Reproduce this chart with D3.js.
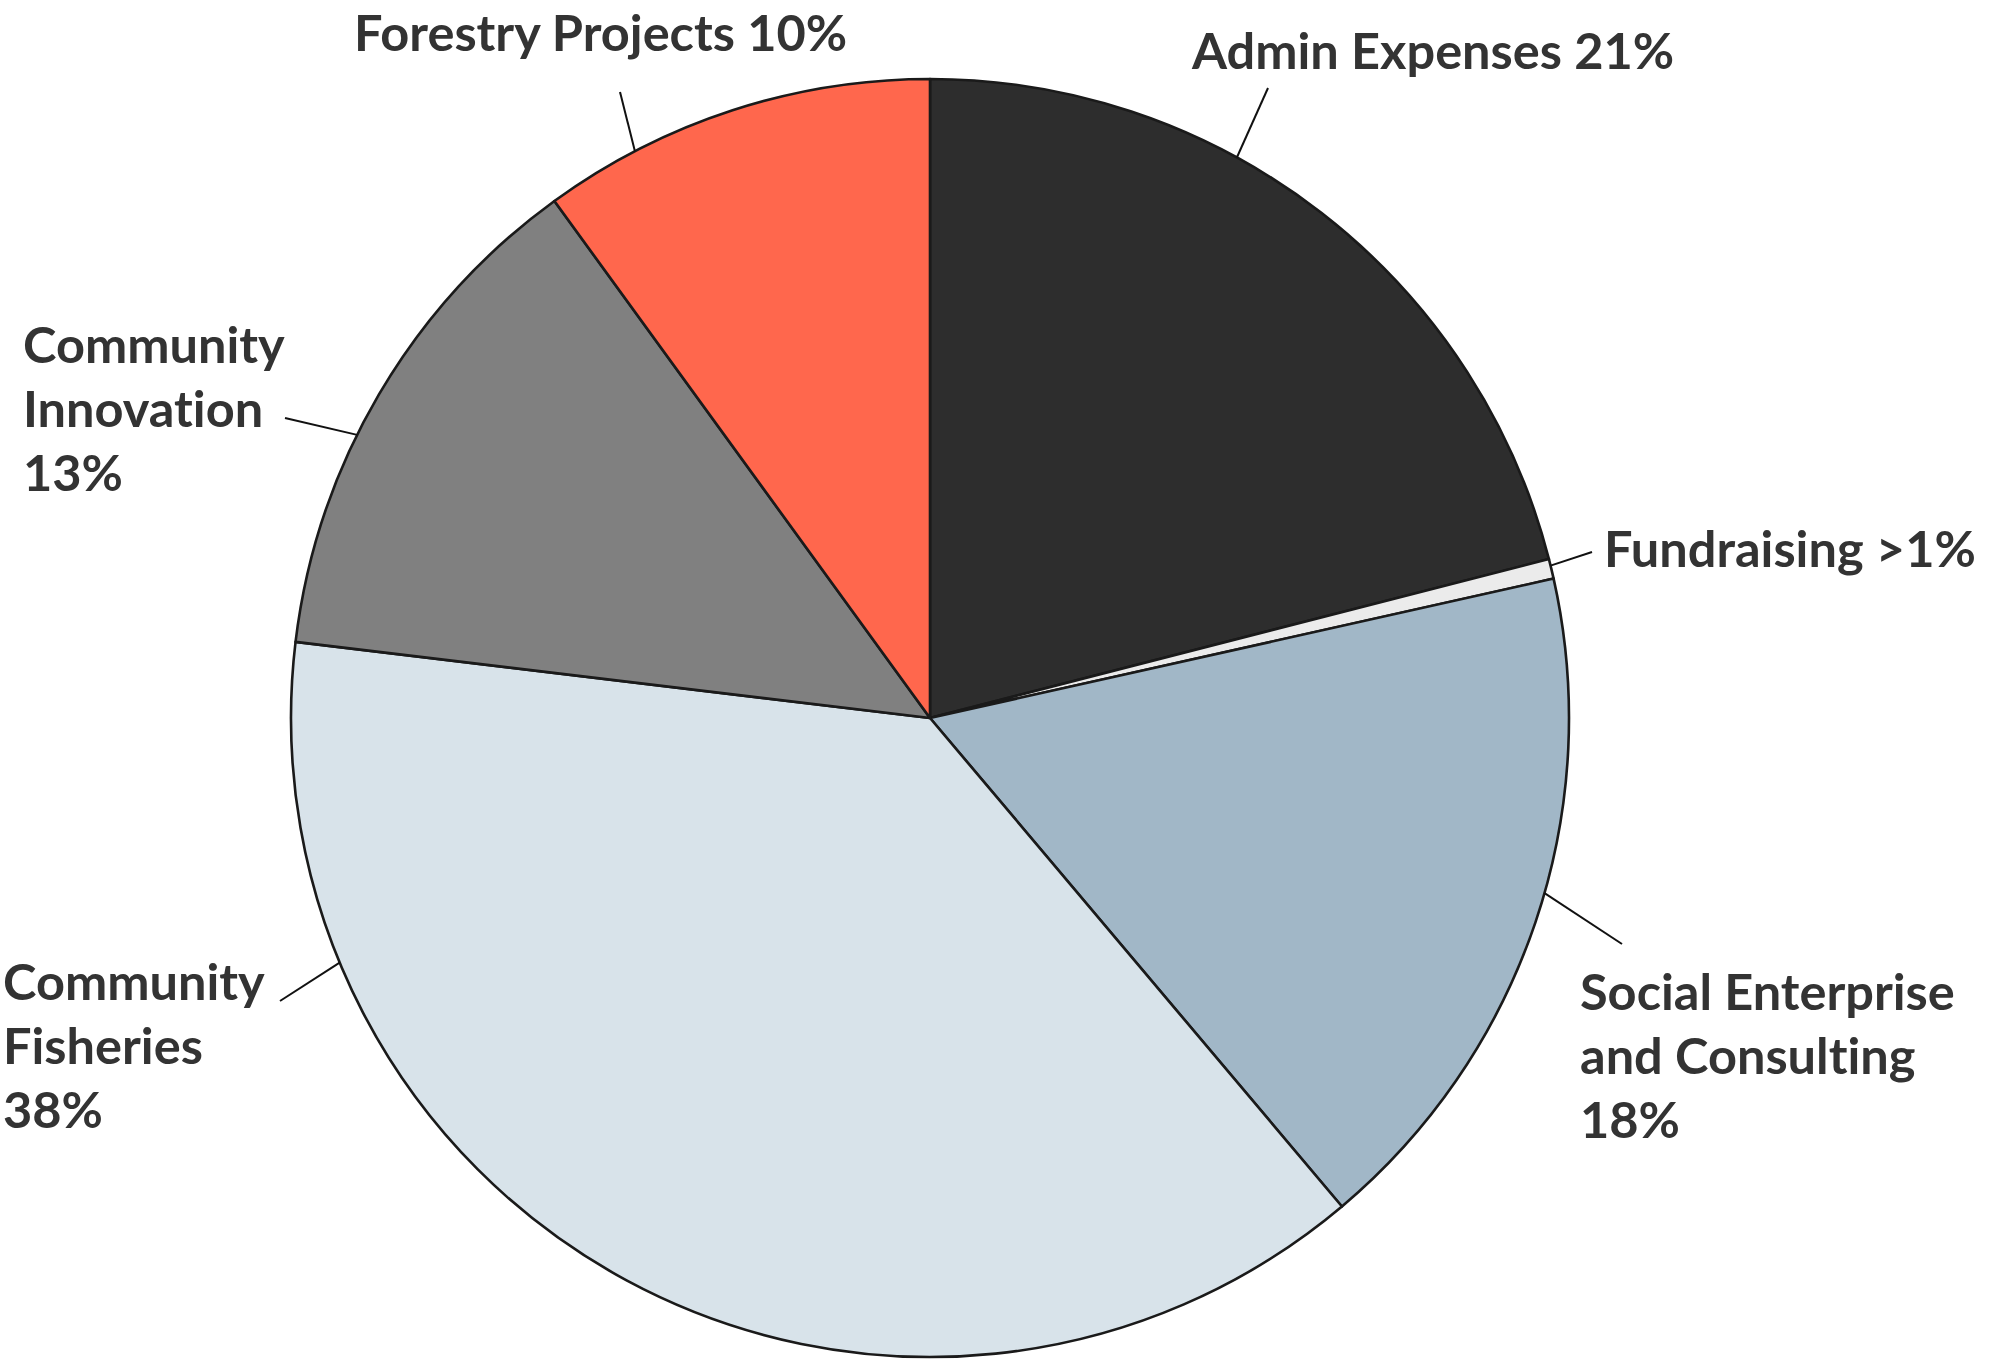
<!DOCTYPE html>
<html>
<head>
<meta charset="utf-8">
<script src="https://cdn.jsdelivr.net/npm/d3@7"></script>
<style>
  html, body { margin: 0; padding: 0; background: #ffffff; }
  svg { display: block; }
  text { font-family: Lato, "Noto Sans", sans-serif; font-weight: 700; fill: #333333; font-variant-ligatures: none; font-feature-settings: "liga" 0, "clig" 0; }
</style>
</head>
<body>
<svg id="chart" width="1995" height="1359"></svg>
<script>
// ---- data ----
const categories = ["Admin Expenses", "Fundraising", "Social Enterprise and Consulting", "Community Fisheries", "Community Innovation", "Forestry Projects"];
const values = [21.0, 0.5, 17.35, 38.05, 13.1, 10.0];
const valueLabels = ["21%", ">1%", "18%", "38%", "13%", "10%"];
const colors = ["#2d2d2d", "#ebebeb", "#a1b7c7", "#d8e3ea", "#808080", "#ff674d"];

// ---- label layout (not data) ----
const labelLines = [
  ["Admin Expenses 21%"],
  ["Fundraising >1%"],
  ["Social Enterprise", "and Consulting", "18%"],
  ["Community", "Fisheries", "38%"],
  ["Community", "Innovation", "13%"],
  ["Forestry Projects 10%"]
];
const labelX = [1192, 1604, 1580, 3, 23, 354];
const labelY = [69, 567, 1010, 1000, 363, 51];
const leaderAngle = [28.7, 76.2, 105.9, 247.5, 296.3, -27.5];
const leaderEnd = [[1268, 88], [1592, 552], [1622, 944], [280, 1001], [285, 418], [620, 92]];

const W = 1995, H = 1359;
const cx = 930, cy = 718, R = 639;
const lineH = 64;

const svg = d3.select("#chart");
const g = svg.append("g").attr("transform", `translate(${cx},${cy})`);

const pie = d3.pie().sort(null).value(d => d.v).startAngle(0).endAngle(2 * Math.PI);
const data = categories.map((c, i) => ({ c, v: values[i], i }));
const arcs = pie(data);
const arc = d3.arc().innerRadius(0).outerRadius(R);

g.selectAll("path.slice")
  .data(arcs)
  .join("path")
  .attr("class", "slice")
  .attr("d", arc)
  .attr("fill", d => colors[d.data.i])
  .attr("stroke", "#1a1a1a")
  .attr("stroke-width", 2.6)
  .attr("stroke-linejoin", "round");

// leader lines
const lg = svg.append("g");
arcs.forEach((d, i) => {
  const a = leaderAngle[i] * Math.PI / 180;
  const sx = cx + R * Math.sin(a);
  const sy = cy - R * Math.cos(a);
  lg.append("line")
    .attr("x1", sx).attr("y1", sy)
    .attr("x2", leaderEnd[i][0]).attr("y2", leaderEnd[i][1])
    .attr("stroke", "#111111")
    .attr("stroke-width", 2);
});

// labels
const tg = svg.append("g");
labelLines.forEach((lines, i) => {
  const t = tg.append("text")
    .attr("x", labelX[i])
    .attr("y", labelY[i])
    .attr("font-size", 50.5);
  lines.forEach((ln, k) => {
    t.append("tspan")
      .attr("x", labelX[i])
      .attr("dy", k === 0 ? 0 : lineH)
      .text(ln);
  });
});
</script>
</body>
</html>
